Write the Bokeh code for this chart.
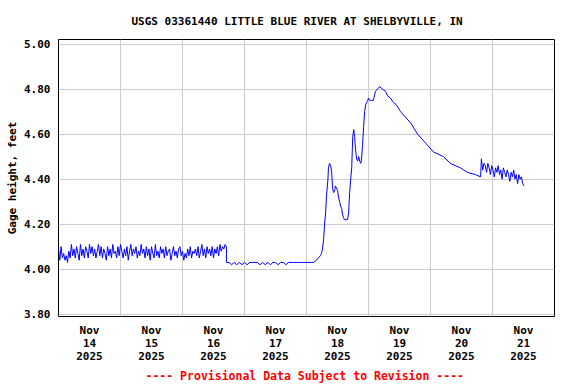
import numpy as np
import pandas as pd
from bokeh.plotting import figure
from bokeh.models import (FixedTicker, DatetimeTickFormatter, Range1d, Title,
                          NumeralTickFormatter)
from bokeh.embed import file_html
from bokeh.resources import INLINE

START = pd.Timestamp("2025-11-14 00:00")

# --- Segment A: base flow, noisy, 30-minute readings from 0 h to 65 h ---
seg_a_start_h = 0.0
seg_a_step_h = 0.5
seg_a_vals = [
    4.09, 4.04, 4.10, 4.05, 4.07, 4.04, 4.06, 4.03, 4.08, 4.05,
    4.11, 4.06, 4.09, 4.05, 4.10, 4.07, 4.04, 4.11, 4.06, 4.09,
    4.05, 4.10, 4.08, 4.05, 4.11, 4.07, 4.10, 4.06, 4.09, 4.05,
    4.08, 4.11, 4.06, 4.10, 4.05, 4.09, 4.07, 4.04, 4.10, 4.06,
    4.09, 4.05, 4.11, 4.07, 4.08, 4.05, 4.10, 4.06, 4.11, 4.08,
    4.05, 4.09, 4.06, 4.10, 4.04, 4.08, 4.11, 4.06, 4.09, 4.07,
    4.10, 4.05, 4.08, 4.06, 4.11, 4.07, 4.09, 4.05, 4.10, 4.06,
    4.09, 4.04, 4.10, 4.07, 4.05, 4.11, 4.06, 4.08, 4.05, 4.10,
    4.07, 4.09, 4.05, 4.10, 4.06, 4.08, 4.09, 4.04, 4.07, 4.10,
    4.06, 4.08, 4.05, 4.09, 4.10, 4.06, 4.08, 4.04, 4.07, 4.05,
    4.09, 4.06, 4.10, 4.05, 4.08, 4.07, 4.09, 4.06, 4.10, 4.05,
    4.08, 4.11, 4.06, 4.09, 4.05, 4.10, 4.07, 4.09, 4.06, 4.10,
    4.05, 4.09, 4.07, 4.10, 4.06, 4.11, 4.08, 4.10, 4.09, 4.11,
    4.10,
]

# --- Segment B: quiet flat reading, hourly from 65 h to 98 h ---
seg_b_start_h = 65.0
seg_b_step_h = 1.0
seg_b_vals = [
    4.03, 4.03, 4.02, 4.03, 4.02, 4.03, 4.02, 4.03, 4.02, 4.03,
    4.03, 4.03, 4.03, 4.02, 4.03, 4.02, 4.03, 4.02, 4.03, 4.03,
    4.02, 4.03, 4.03, 4.02, 4.03, 4.03, 4.03, 4.03, 4.03, 4.03,
    4.03, 4.03, 4.03, 4.03,
]

# --- Segment C: storm rise and recession (hours, feet) ---
seg_c_hours = [
    98.7, 99.9, 100.6, 101.4, 101.8, 102.2, 102.6, 103.0, 103.4, 103.7,
    104.3, 104.5, 104.9, 105.3, 105.7, 106.1, 106.5, 106.9, 107.2, 107.6,
    108.0, 108.4, 108.8, 109.2, 109.6, 110.0, 110.3, 110.7, 111.9, 112.3,
    112.7, 113.1, 113.5, 113.9, 114.3, 114.6, 115.0, 115.4, 115.8, 116.2,
    116.6, 117.0, 117.3, 117.7, 118.1, 118.5, 118.9, 119.3, 119.7, 120.0,
    120.4, 120.8, 121.9, 122.3, 122.7, 123.5, 124.3, 125.4, 126.6, 127.4,
    128.5, 129.7, 130.8, 132.4, 133.9, 136.3, 139.0, 142.1, 145.2, 149.0,
    151.7, 155.6, 158.3, 161.4, 163.4,
]
seg_c_vals = [
    4.03, 4.04, 4.05, 4.06, 4.07, 4.09, 4.13, 4.20, 4.25, 4.32,
    4.40, 4.45, 4.47, 4.46, 4.44, 4.36, 4.34, 4.35, 4.37, 4.36,
    4.35, 4.32, 4.30, 4.28, 4.27, 4.24, 4.23, 4.22, 4.22, 4.25,
    4.34, 4.40, 4.45, 4.59, 4.62, 4.59, 4.53, 4.49, 4.48, 4.50,
    4.48, 4.47, 4.49, 4.55, 4.63, 4.70, 4.73, 4.74, 4.75, 4.76,
    4.75, 4.75, 4.75, 4.77, 4.79, 4.80, 4.81, 4.80, 4.79, 4.77,
    4.76, 4.74, 4.73, 4.70, 4.68, 4.65, 4.60, 4.56, 4.52, 4.50,
    4.47, 4.45, 4.43, 4.42, 4.41,
]

# --- Segment D: noisy tail, 30-minute readings from 163.7 h ---
seg_d_start_h = 163.7
seg_d_step_h = 0.5
seg_d_vals = [
    4.49, 4.44, 4.47, 4.46, 4.43, 4.47, 4.45, 4.42, 4.46, 4.44,
    4.41, 4.45, 4.43, 4.46, 4.42, 4.44, 4.40, 4.45, 4.43, 4.41,
    4.44, 4.42, 4.39, 4.43, 4.41, 4.44, 4.40, 4.42, 4.38, 4.42,
    4.40, 4.41, 4.38, 4.37,
]

Y_TICKS = [3.80, 4.00, 4.20, 4.40, 4.60, 4.80, 5.00]
N_DAYS = 8

hours = np.concatenate([
    seg_a_start_h + seg_a_step_h * np.arange(len(seg_a_vals)),
    seg_b_start_h + seg_b_step_h * np.arange(len(seg_b_vals)),
    np.array(seg_c_hours),
    seg_d_start_h + seg_d_step_h * np.arange(len(seg_d_vals)),
])
vals = np.concatenate([seg_a_vals, seg_b_vals, seg_c_vals, seg_d_vals])
times = START + pd.to_timedelta(hours, unit="h")

FONT = "DejaVu Sans Mono"

p = figure(width=576, height=384, x_axis_type="datetime",
           output_backend="svg", toolbar_location=None,
           x_range=Range1d(START, START + pd.Timedelta(days=N_DAYS)),
           y_range=Range1d(3.79, 5.02),
           min_border_left=58, min_border_right=22,
           min_border_top=39, min_border_bottom=68)

p.line(times, vals, line_color="#0000FF", line_width=1)

noon_ticks = [(START + pd.Timedelta(days=d, hours=12)).value / 1e6 for d in range(N_DAYS)]
midnights = [(START + pd.Timedelta(days=d)).value / 1e6 for d in range(1, N_DAYS)]

p.xaxis.ticker = FixedTicker(ticks=noon_ticks)
fmt = "%b\n%d\n%Y"
p.xaxis.formatter = DatetimeTickFormatter(days=fmt, hours=fmt, months=fmt, hourmin=fmt)
p.xgrid.ticker = FixedTicker(ticks=midnights)
p.yaxis.ticker = FixedTicker(ticks=Y_TICKS)
p.yaxis.formatter = NumeralTickFormatter(format="0.00")

for ax in (p.xaxis, p.yaxis):
    ax.major_tick_line_color = None
    ax.minor_tick_line_color = None
    ax.major_tick_out = 0
    ax.major_tick_in = 0
    ax.minor_tick_out = 0
    ax.minor_tick_in = 0
    ax.axis_line_color = None
    ax.major_label_text_font = FONT
    ax.major_label_text_font_style = "bold"
    ax.major_label_text_font_size = "11px"
    ax.major_label_text_color = "black"
    ax.major_label_text_line_height = 1.0

p.yaxis.major_label_standoff = 8
p.xaxis.major_label_standoff = 7

p.yaxis.axis_label = "Gage height, feet"
p.yaxis.axis_label_text_font = FONT
p.yaxis.axis_label_text_font_style = "bold"
p.yaxis.axis_label_text_font_size = "11px"
p.yaxis.axis_label_text_color = "black"
p.yaxis.axis_label_standoff = 2

p.grid.grid_line_color = "#cccccc"
p.grid.grid_line_width = 1
p.outline_line_color = "black"
p.outline_line_width = 1

p.title.text = "USGS 03361440 LITTLE BLUE RIVER AT SHELBYVILLE, IN"
p.title.align = "left"
p.title.offset = 73
p.title.standoff = 24
p.title.text_font = FONT
p.title.text_font_style = "bold"
p.title.text_font_size = "11px"
p.title.text_color = "black"

footer = Title(text="---- Provisional Data Subject to Revision ----",
               align="left", offset=87, standoff=3, text_font=FONT,
               text_font_style="bold", text_font_size="11.5px",
               text_color="#FF0000")
p.add_layout(footer, "below")

p.background_fill_color = "white"
p.border_fill_color = "white"

open("out.html", "w").write(file_html(p, INLINE))
